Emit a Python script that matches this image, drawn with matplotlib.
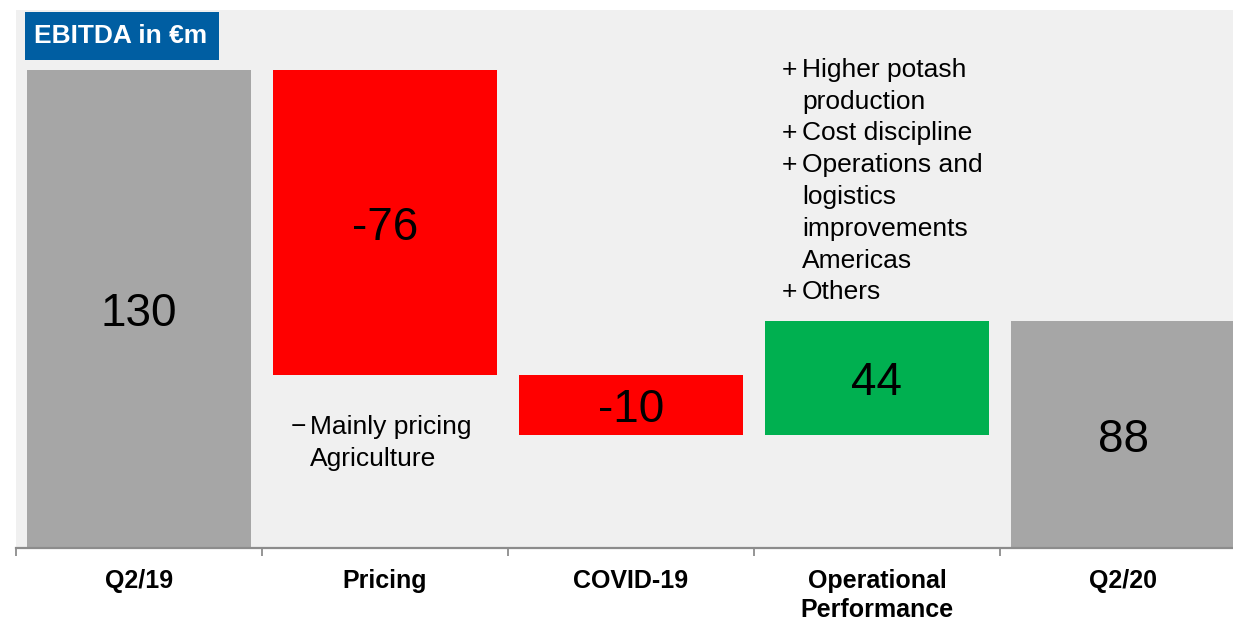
import matplotlib
matplotlib.use("Agg")
import matplotlib.pyplot as plt
from matplotlib.patches import Rectangle
import numpy as np

plt.rcParams['font.family'] = ['Liberation Sans', 'DejaVu Sans']

# ---- data ----
categories = ["Q2/19", "Pricing", "COVID-19", "Operational\nPerformance", "Q2/20"]
value_labels = ["130", "-76", "-10", "44", "88"]
# bar extents as drawn in the picture (the original chart is not to scale)
drawn_steps = [130, -83, -16.3, 31, 61.7]
is_total = [True, False, False, False, True]
bar_colors = ["#a6a6a6", "#ff0000", "#ff0000", "#00b050", "#a6a6a6"]

pricing_notes = ["Mainly pricing", "Agriculture"]
ops_bullets = ["+", "", "+", "+", "", "", "", "+"]
ops_notes = ["Higher potash", "production", "Cost discipline", "Operations and",
             "logistics", "improvements", "Americas", "Others"]

# ---- figure ----
fig = plt.figure(figsize=(12.33, 6.21), dpi=100)
ax = fig.add_axes([16/1233, 73/621, 1230/1233, 538/621])
ax.set_facecolor("#f0f0f0")

x = np.arange(len(categories))
bottoms, heights = [], []
running = 0.0
for step, tot in zip(drawn_steps, is_total):
    if tot:
        bottoms.append(0.0)
        heights.append(step)
        running = step
    else:
        new = running + step
        bottoms.append(min(running, new))
        heights.append(abs(step))
        running = new

ax.bar(x, heights, bottom=bottoms, width=0.91, color=bar_colors, zorder=2)

for xi, b, h, lab in zip(x, bottoms, heights, value_labels):
    ax.text(xi, b + h / 2, lab, ha="center", va="center_baseline", fontsize=33,
            color="black", zorder=3)

ax.set_xlim(-0.5, 4.5)
ax.set_ylim(0, 146.3)

for s in ["top", "right", "left"]:
    ax.spines[s].set_visible(False)
ax.spines["bottom"].set_color("#8c8c8c")
ax.spines["bottom"].set_linewidth(1.6)
ax.set_yticks([])

ax.set_xticks(np.arange(-0.5, 5.0, 1.0))
ax.set_xticklabels([])
ax.tick_params(axis="x", which="major", length=5.5, width=1.3, color="#8c8c8c", direction="out")
ax.set_xticks(x, minor=True)
ax.set_xticklabels(categories, minor=True, fontsize=18, fontweight="bold", linespacing=1.25)
ax.tick_params(axis="x", which="minor", length=0, pad=15)

# notes under Pricing
y0 = 31.0
for i, line in enumerate(pricing_notes):
    ax.text(0.695, y0 - i * 8.7, line, ha="left", va="baseline", fontsize=19, zorder=3)
ax.text(0.617, y0, "\u2212", ha="left", va="baseline", fontsize=19, zorder=3)

# notes above Operational performance
y1 = 128.1
for i, (b, line) in enumerate(zip(ops_bullets, ops_notes)):
    yy = y1 - i * 8.64
    ax.text(2.695, yy, line, ha="left", va="baseline", fontsize=19, zorder=3)
    if b:
        ax.text(2.614, yy, b, ha="left", va="baseline", fontsize=19, zorder=3)

# title box
fig.patches.append(Rectangle((25/1233, 1 - 60/621), 194/1233, 48/621,
                             transform=fig.transFigure, facecolor="#005ea2",
                             edgecolor="none", zorder=5))
fig.text(34/1233, 1 - 36/621, "EBITDA in \u20acm", ha="left", va="center",
         fontsize=19, fontweight="bold", color="white", zorder=6)

fig.savefig("out.png", dpi=100, facecolor="white")
